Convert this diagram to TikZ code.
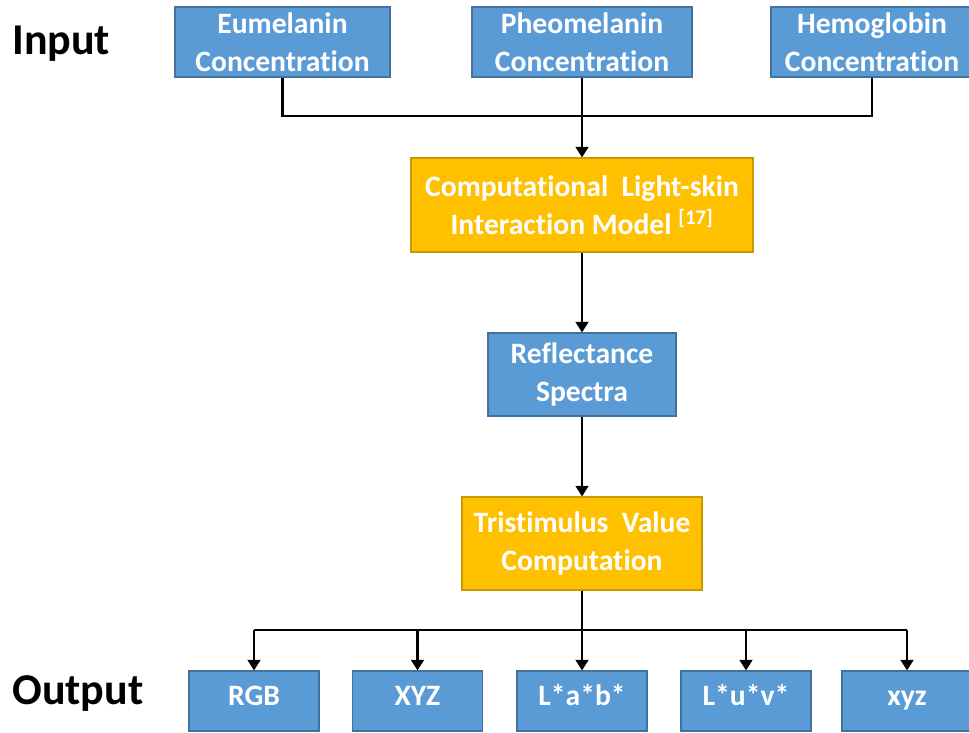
\documentclass[tikz,border=0pt]{standalone}
\usepackage{fontspec}
\setmainfont{Carlito}[Ligatures={NoCommon,NoRare,NoDiscretionary,NoContextual}]
\usetikzlibrary{arrows.meta}

\definecolor{boxblue}{HTML}{5B9BD5}
\definecolor{boxblueedge}{HTML}{41719C}
\definecolor{boxgold}{HTML}{FFC000}
\definecolor{boxgoldedge}{HTML}{C99A00}

\tikzset{
  base/.style={draw, line width=0.8pt, text=white, align=center, inner sep=0pt,
    font=\bfseries\fontsize{22.2}{28.2}\selectfont},
  bluebox/.style={base, fill=boxblue, draw=boxblueedge},
  goldbox/.style={base, fill=boxgold, draw=boxgoldedge},
  outbox/.style={bluebox, minimum width=97.5pt, minimum height=45pt,
    text height=0.644em, text depth=0pt},
  wire/.style={line width=2.2pt, black},
  arrowwire/.style={wire, -{Triangle[width=9.5pt,length=8pt]}},
  sidelabel/.style={anchor=west, inner sep=0pt, font=\bfseries\fontsize{33}{36}\selectfont}
}

\begin{document}
\begin{tikzpicture}[x=0.75pt, y=-0.75pt]
  \useasboundingbox (0,0) rectangle (969,732);
  \clip (0,0) rectangle (969,732);

  % side labels
  \node[sidelabel] (inlbl)  at (12,44)  {Input};
  \node[sidelabel] (outlbl) at (12,694) {Output};

  % input concentrations
  \node[bluebox, minimum width=161.25pt, minimum height=52.5pt] (eu) at (282.5,42)
    {Eumelanin\\Concentration};
  \node[bluebox, minimum width=165pt, minimum height=52.5pt] (ph) at (582,42)
    {Pheomelanin\\Concentration};
  \node[bluebox, minimum width=151.5pt, minimum height=52.5pt] (he) at (872,42)
    {Hemoglobin\\Concentration};

  % model and intermediate steps
  \node[goldbox, minimum width=256.5pt, minimum height=70.5pt] (comp) at (582,205)
    {Computational\ \ Light-skin\\Interaction Model \textsuperscript{[17]}};
  \node[bluebox, minimum width=141pt, minimum height=62.25pt] (refl) at (582,374.5)
    {Reflectance\\Spectra};
  \node[goldbox, minimum width=180pt, minimum height=69.75pt] (tri) at (582,543.5)
    {Tristimulus\ \ Value\\Computation};

  % output colour spaces
  \foreach \nm/\cx/\txt in {rgb/254/RGB, xyzc/417.5/XYZ, lab/582/L*a*b*, luv/746/L*u*v*, xyzl/907/xyz}{
    \node[outbox] (\nm) at (\cx,701) {\txt};
  }

  % junction points
  \coordinate (join) at (582,116);
  \coordinate (bus)  at (582,630);

  % inputs merging into the model
  \draw[wire] (eu.south) |- (join);
  \draw[wire] (he.south) |- (join);
  \draw[arrowwire] (ph.south) -- (comp.north);

  % main chain
  \draw[arrowwire] (comp.south) -- (refl.north);
  \draw[arrowwire] (refl.south) -- (tri.north);

  % distribution to outputs
  \draw[wire] (tri.south) -- (bus);
  \draw[wire] (rgb.north |- bus) -- (xyzl.north |- bus);
  \foreach \nm in {rgb, xyzc, lab, luv, xyzl}{
    \draw[arrowwire] (\nm.north |- bus) -- (\nm.north);
  }
\end{tikzpicture}
\end{document}
